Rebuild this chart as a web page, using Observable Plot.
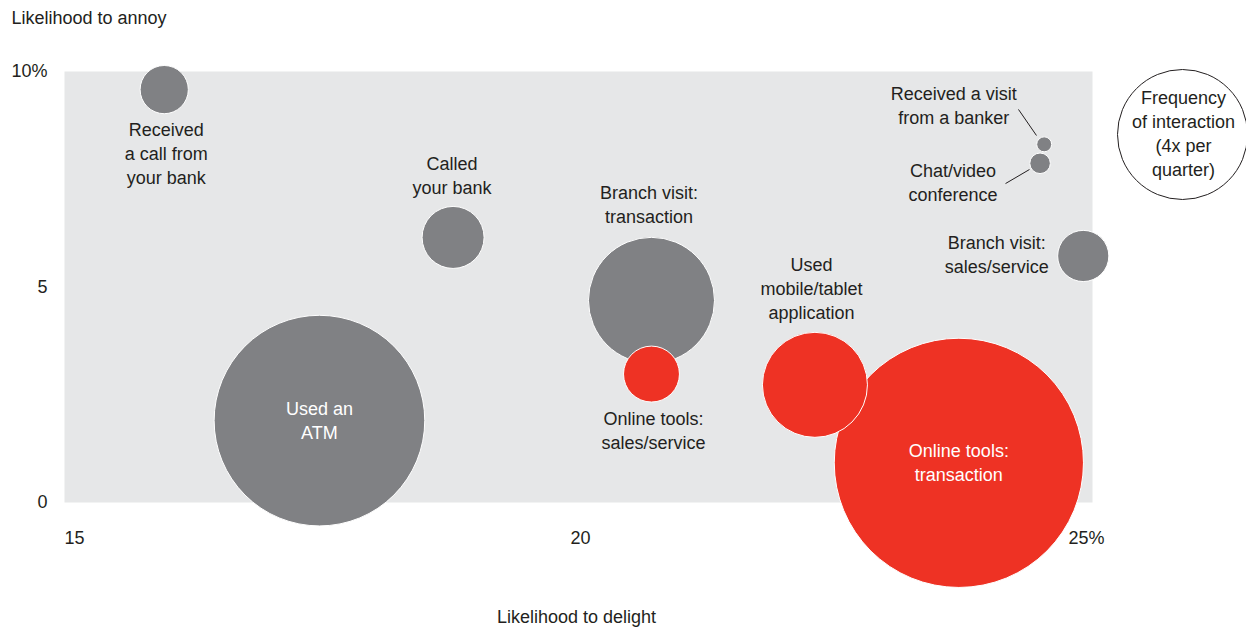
<!DOCTYPE html>
<html><head><meta charset="utf-8">
<script src="https://cdn.jsdelivr.net/npm/d3@7"></script>
<script src="https://cdn.jsdelivr.net/npm/@observablehq/plot@0.6"></script>
<style>body{margin:0;background:#fff}</style>
</head><body><div id="chart"></div>
<script>
// --- data ---
const names = [
  "Received\na call from\nyour bank",
  "Called\nyour bank",
  "Used an\nATM",
  "Branch visit:\ntransaction",
  "Online tools:\nsales/service",
  "Used\nmobile/tablet\napplication",
  "Online tools:\ntransaction",
  "Received a visit\nfrom a banker",
  "Chat/video\nconference",
  "Branch visit:\nsales/service"
];
const delight = [15.97, 18.78, 17.48, 20.71, 20.71, 22.30, 23.70, 24.53, 24.49, 24.91];
const annoy   = [9.58, 6.15, 1.90, 4.69, 2.98, 2.73, 0.92, 8.31, 7.87, 5.72];
const frequency = [0.55, 0.91, 10.5, 3.76, 0.74, 2.61, 14.7, 0.053, 0.10, 0.62];
const channel = ["traditional","traditional","traditional","traditional","digital","digital","digital","traditional","traditional","traditional"];
const xTicks = [15, 20, 25];
const yTicks = [0, 5, 10];
const legendValue = 4;
const legendText = "Frequency\nof interaction\n(4x per\nquarter)";
// leader lines (from label to dot), in data units
const leaderX1 = [24.28, 24.154];
const leaderY1 = [9.12, 7.40];
const leaderX2 = [24.455, 24.387];
const leaderY2 = [8.515, 7.726];

// --- presentation ---
const labelOffsets = [[2,63],[-1,-63.5],[0,-1],[-2.5,-97],[2,55],[-3.5,-97.5],[0,-2],[-90.5,-40.5],[-87,18],[-86.5,-2.5]];
const insideLabel = [false,false,true,false,false,false,true,false,false,false];
const ink = "#231f20";

const rows = names.map((n, i) => ({name: n, x: delight[i], y: annoy[i], f: frequency[i], c: channel[i]}));
const leaders = leaderX1.map((d, i) => ({x1: d, y1: leaderY1[i], x2: leaderX2[i], y2: leaderY2[i]}));

const chart = Plot.plot({
  width: 1246, height: 627,
  marginLeft: 64, marginRight: 154, marginTop: 71, marginBottom: 125,
  x: {domain: [15, 25]},
  y: {domain: [0, 10]},
  r: {type: "sqrt", domain: [0, 4], range: [0, 65]},
  color: {domain: ["traditional", "digital"], range: ["#808184", "#EE3224"]},
  style: {fontFamily: "'Liberation Sans', Arial, sans-serif", fontSize: "18px", color: ink, background: "white"},
  marks: [
    Plot.frame({fill: "#E6E7E8", stroke: "none"}),
    Plot.axisY(yTicks, {tickSize: 0, tickPadding: 17, fill: ink, tickFormat: d => d === 10 ? "10%" : String(d)}),
    Plot.axisX([xTicks[0]], {tickSize: 0, tickPadding: 29, fill: ink, textAnchor: "start"}),
    Plot.axisX([xTicks[1]], {tickSize: 0, tickPadding: 29, fill: ink, dx: 2}),
    Plot.axisX([xTicks[2]], {tickSize: 0, tickPadding: 29, fill: ink, textAnchor: "start", dx: -24, tickFormat: d => d + "%"}),
    Plot.link(leaders, {x1: "x1", y1: "y1", x2: "x2", y2: "y2", stroke: ink, strokeWidth: 1}),
    Plot.dot(rows, {x: "x", y: "y", r: "f", fill: "c", stroke: "white", strokeWidth: 1}),
    ...rows.map((d, i) => Plot.text([d], {
      x: "x", y: "y", text: "name",
      dx: labelOffsets[i][0], dy: labelOffsets[i][1],
      lineHeight: 1.333, fill: insideLabel[i] ? "white" : ink
    })),
    Plot.dot([legendValue], {r: d => d, frameAnchor: "top-right", dx: 90, dy: 63, fill: "white", stroke: ink, strokeWidth: 1}),
    Plot.text([legendText], {frameAnchor: "top-right", textAnchor: "middle", lineAnchor: "middle", dx: 91, dy: 61, lineHeight: 1.333, fill: ink}),
    Plot.text(["Likelihood to annoy"], {frameAnchor: "top-left", textAnchor: "start", lineAnchor: "middle", dx: -53, dy: -53, fill: ink}),
    Plot.text(["Likelihood to delight"], {frameAnchor: "bottom", lineAnchor: "middle", dx: -2, dy: 115, fill: ink})
  ]
});
document.getElementById("chart").appendChild(chart);
</script>
</body></html>
